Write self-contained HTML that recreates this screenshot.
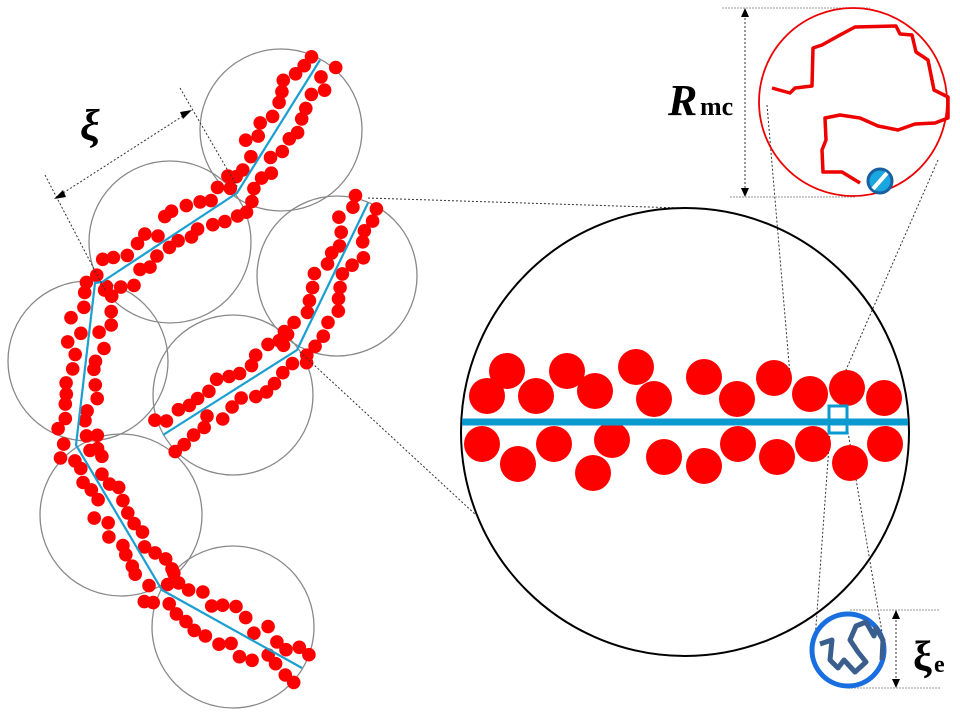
<!DOCTYPE html>
<html><head><meta charset="utf-8"><style>body{margin:0;background:#fff}svg{display:block}</style></head>
<body>
<svg id="s" width="960" height="720" viewBox="0 0 960 720" xmlns="http://www.w3.org/2000/svg">
<g fill="none" stroke="#888" stroke-width="1.3">
<circle cx="281" cy="130" r="81"/><circle cx="170" cy="242" r="81"/><circle cx="337" cy="276" r="80"/>
<circle cx="88" cy="361" r="80"/><circle cx="233" cy="395" r="80"/><circle cx="121" cy="515" r="81"/><circle cx="233" cy="627" r="81"/>
</g>
<g id="dots" fill="#f00"></g>
<g fill="none" stroke="#1a9fd0" stroke-width="2.2">
<polyline points="320,60 237,193 102,282 95,283 76,445 162,590 302,668"/>
<polyline points="368,203 297,350 163,435"/>
</g>
<g stroke="#333" stroke-width="1" stroke-dasharray="2,2" fill="none">
<line x1="45" y1="175" x2="105" y2="290"/><line x1="180" y1="88" x2="238" y2="188"/>
<line x1="368" y1="198" x2="680" y2="208"/><line x1="300" y1="352" x2="476" y2="515"/>
<line x1="767" y1="105" x2="790" y2="375"/><line x1="938" y1="160" x2="835" y2="395"/>
<line x1="830" y1="432" x2="815" y2="640"/><line x1="848" y1="432" x2="885" y2="650"/>
<line x1="745" y1="14" x2="745" y2="190"/><line x1="896" y1="616" x2="896" y2="682"/>
<line x1="60" y1="195" x2="186" y2="114"/>
</g>
<g stroke="#aaa" stroke-width="1.2" stroke-dasharray="2,1"><line x1="722" y1="8" x2="870" y2="8"/><line x1="730" y1="197" x2="855" y2="197"/>
<line x1="850" y1="610" x2="940" y2="610"/><line x1="848" y1="688" x2="940" y2="688"/></g>
<g fill="#000"><polygon points="745,8 741,17 749,17"/><polygon points="745,197 741,188 749,188"/>
<polygon points="896,610 892,619 900,619"/><polygon points="896,688 892,679 900,679"/>
<polygon points="54,199 63,190 66,197"/><polygon points="192,110 183,119 180,112"/></g>
<circle cx="685" cy="432" r="224" fill="none" stroke="#000" stroke-width="2"/>
<g fill="#f00">
<circle cx="507" cy="371" r="18"/><circle cx="487" cy="396" r="18"/><circle cx="536" cy="396" r="18"/><circle cx="567" cy="371" r="18"/><circle cx="595" cy="391" r="18"/><circle cx="636" cy="367" r="18"/><circle cx="654" cy="399" r="18"/><circle cx="704" cy="377" r="18"/><circle cx="737" cy="399" r="18"/><circle cx="774" cy="378" r="18"/><circle cx="810" cy="394" r="18"/><circle cx="847" cy="388" r="18"/><circle cx="884" cy="398" r="18"/>
<circle cx="482" cy="444" r="18"/><circle cx="518" cy="464" r="18"/><circle cx="554" cy="444" r="18"/><circle cx="612" cy="440" r="18"/><circle cx="593" cy="473" r="18"/><circle cx="664" cy="457" r="18"/><circle cx="704" cy="466" r="18"/><circle cx="738" cy="444" r="18"/><circle cx="777" cy="457" r="18"/><circle cx="813" cy="444" r="18"/><circle cx="850" cy="463" r="18"/><circle cx="885" cy="444" r="18"/>
</g>
<line x1="462" y1="422" x2="908" y2="422" stroke="#0a9ad0" stroke-width="7"/>
<rect x="829" y="406" width="18" height="27" fill="none" stroke="#0a9ad0" stroke-width="3"/>
<circle cx="853" cy="102" r="94" fill="none" stroke="#e00" stroke-width="1.8"/>
<path d="M772,88 L790,93 L795,88 L812,86 L813,48 L822,45 L840,35 L855,27 L896,26 L900,34 L912,35 L916,52 L928,60 L934,90 L948,97 L948,118 L935,123 L915,124 L898,130 L878,126 L860,118 L840,115 L825,118 L826,140 L822,150 L823,172 L842,172 L860,183" fill="none" stroke="#e00" stroke-width="3.5" stroke-linejoin="round"/>
<circle cx="880" cy="181" r="12" fill="#1aa6e0" stroke="#1a5fa0" stroke-width="3"/>
<line x1="873" y1="189" x2="887" y2="173" stroke="#fff" stroke-width="4"/>
<circle cx="848" cy="650" r="36" fill="none" stroke="#1a6fe0" stroke-width="5"/>
<path d="M820,644 L832,640 L830,660 L838,668 L844,660 L855,672 L866,662 L858,652 L850,640 L856,626 L866,622 L874,636 L876,628 L883,640 L882,660" fill="none" stroke="#3a5f8f" stroke-width="5" stroke-linejoin="round"/>
<text x="80" y="140" font-family="Liberation Serif,serif" font-size="44" font-weight="bold" font-style="italic">ξ</text>
<text x="668" y="115" font-family="Liberation Serif,serif" font-size="44" font-weight="bold" font-style="italic">R</text>
<text x="700" y="115" font-family="Liberation Serif,serif" font-size="26" font-weight="bold">mc</text>
<text x="913" y="670" font-family="Liberation Serif,serif" font-size="42" font-weight="bold">ξ</text>
<text x="934" y="672" font-family="Liberation Serif,serif" font-size="24" font-weight="bold">e</text>
</svg>
<script>
(function(){
var g=document.getElementById('dots');
var chains=[[[320,60],[237,193],[102,282],[95,283],[76,445],[162,590],[302,668]],[[368,203],[297,350],[163,435]]];
var seed=11;function rnd(){seed=(seed*9301+49297)%233280;return seed/233280;}
var s='';
chains.forEach(function(c){
for(var i=0;i<c.length-1;i++){
var a=c[i],b=c[i+1],dx=b[0]-a[0],dy=b[1]-a[1],L=Math.hypot(dx,dy);
if(L<20)continue;var nx=-dy/L,ny=dx/L;var n=Math.floor(L/12);
for(var k=0;k<=n;k++){var t=k/n;var px=a[0]+dx*t,py=a[1]+dy*t;
[-1,1].forEach(function(sd){var o=sd*(7+rnd()*14);
var x=px+nx*o+(rnd()-0.5)*5,y=py+ny*o+(rnd()-0.5)*5;
s+='<circle cx="'+x.toFixed(1)+'" cy="'+y.toFixed(1)+'" r="6.8"/>';});}
}});
g.innerHTML=s;})();
</script>
</body></html>
